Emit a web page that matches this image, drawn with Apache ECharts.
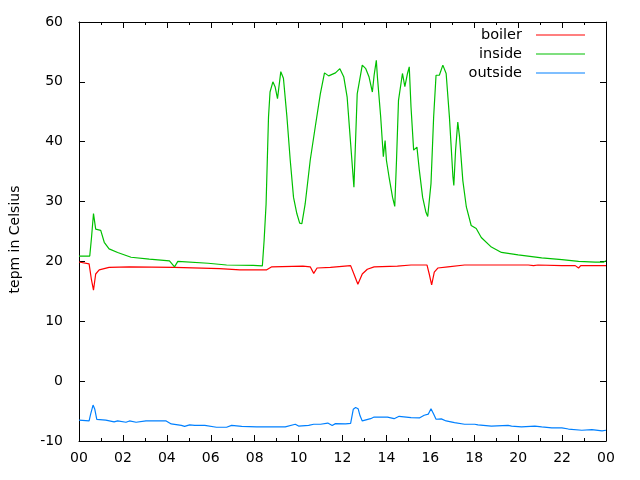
<!DOCTYPE html>
<html>
<head>
<meta charset="utf-8">
<script src="https://cdn.jsdelivr.net/npm/echarts@6/dist/echarts.min.js"></script>
<style>html,body{margin:0;padding:0;background:#fff}#c{width:640px;height:480px}</style>
</head>
<body>
<div id="c"></div>
<script>
const seriesNames = ['boiler', 'inside', 'outside'];
const xTickLabels = ['00','02','04','06','08','10','12','14','16','18','20','22','00'];
const yTickValues = [-10, 0, 10, 20, 30, 40, 50, 60];

const boilerHours = [0,0.46,0.56,0.66,0.76,0.92,1.37,2.29,4.35,6.41,7.33,8.55,8.78,10.2,10.53,10.69,10.84,11.45,12.37,12.52,12.70,12.9,13.13,13.44,14.5,15.12,15.85,15.95,16.06,16.18,16.34,16.8,17.56,20.46,20.7,20.9,21.99,22.6,22.75,22.85,24];
const boilerValues = [19.9,19.6,17.1,15.2,17.9,18.6,19.0,19.1,19.0,18.8,18.6,18.6,19.1,19.2,19.1,18.0,18.9,19.0,19.3,17.9,16.2,17.9,18.7,19.1,19.2,19.4,19.4,17.9,16.1,18.2,18.9,19.1,19.4,19.4,19.3,19.4,19.3,19.3,18.9,19.3,19.3];

const insideHours = [0,0.49,0.57,0.66,0.76,0.99,1.15,1.37,1.76,2.37,3.2,4.12,4.35,4.5,5.88,6.72,7.93,8.35,8.43,8.52,8.63,8.7,8.83,8.93,9.04,9.19,9.31,9.47,9.62,9.77,9.92,10.05,10.15,10.3,10.53,10.76,10.99,11.18,11.37,11.68,11.88,12.06,12.21,12.37,12.52,12.67,12.9,13.06,13.21,13.36,13.44,13.54,13.59,13.74,13.86,13.94,14.0,14.12,14.28,14.38,14.46,14.55,14.73,14.84,14.96,15.04,15.12,15.24,15.39,15.5,15.65,15.8,15.88,16.03,16.15,16.26,16.41,16.57,16.72,16.87,17.03,17.07,17.15,17.25,17.33,17.48,17.64,17.86,18.09,18.32,18.78,19.24,20.0,21.07,21.99,22.75,23.51,23.9,24];
const insideValues = [20.9,20.9,24.0,28.0,25.4,25.2,23.2,22.1,21.5,20.7,20.4,20.1,19.1,20.0,19.7,19.4,19.35,19.25,23.5,29.6,44.1,48.3,50.0,49.2,47.2,51.7,50.6,44.1,36.9,30.7,28.0,26.4,26.3,29.6,36.9,42.5,48.0,51.5,51.0,51.5,52.2,50.8,47.5,39.7,32.4,48.0,52.8,52.2,50.8,48.3,51.1,53.6,50.8,44.1,37.5,40.2,36.9,34.1,30.7,29.2,36.9,46.9,51.4,49.2,51.4,52.5,45.8,38.6,39.1,35.2,30.7,28.2,27.5,33.0,44.1,51.1,51.1,52.8,51.4,44.1,34.1,32.7,38.6,43.3,40.8,33.5,29.1,26.0,25.5,24.0,22.4,21.5,21.1,20.6,20.3,20.0,19.9,19.9,20.1];

const outsideHours = [0,0.46,0.53,0.64,0.72,0.81,1.22,1.6,1.76,2.14,2.3,2.6,3.05,3.97,4.2,4.66,4.81,5.04,5.27,5.73,6.26,6.72,6.95,7.41,8.09,9.39,9.85,10.0,10.46,10.69,11.0,11.33,11.53,11.68,12.14,12.37,12.49,12.6,12.71,12.8,12.9,13.28,13.44,14.05,14.35,14.58,15.12,15.5,15.72,15.91,16.03,16.15,16.26,16.5,16.72,17.1,17.56,18.02,18.17,18.78,19.54,19.7,20.15,20.76,21.07,21.53,21.99,22.29,22.9,23.36,23.82,24];
const outsideValues = [-6.5,-6.65,-5.5,-4.0,-4.7,-6.4,-6.5,-6.8,-6.65,-6.87,-6.65,-6.87,-6.65,-6.65,-7.15,-7.4,-7.55,-7.3,-7.4,-7.4,-7.7,-7.7,-7.4,-7.55,-7.65,-7.65,-7.2,-7.5,-7.4,-7.2,-7.2,-7.0,-7.4,-7.1,-7.15,-7.05,-4.7,-4.4,-4.6,-5.8,-6.65,-6.27,-6.0,-6.0,-6.27,-5.87,-6.1,-6.15,-5.7,-5.5,-4.6,-5.5,-6.37,-6.3,-6.65,-6.93,-7.2,-7.2,-7.3,-7.5,-7.4,-7.5,-7.65,-7.5,-7.65,-7.8,-7.8,-8.0,-8.2,-8.1,-8.3,-8.2];

const colors = ['#ff0000', '#00c000', '#0080ff'];
const FONT = 'DejaVu Sans';

function pairs(h, v) { return h.map((t, i) => [t, v[i]]); }

const chart = echarts.init(document.getElementById('c'), null, {renderer: 'canvas'});
const axisLine = {show: true, onZero: false, lineStyle: {color: '#000', width: 1}};
const tickStyle = {color: '#000', width: 1};

chart.setOption({
  animation: false,
  backgroundColor: '#fff',
  color: colors,
  textStyle: {fontFamily: FONT},
  grid: {left: 79, right: 34, top: 22, bottom: 39, containLabel: false},
  legend: {
    orient: 'vertical',
    right: 55,
    top: 25.5,
    padding: 0,
    align: 'right',
    itemGap: 0,
    itemWidth: 49,
    itemHeight: 1,
    icon: 'rect',
    data: seriesNames,
    textStyle: {fontFamily: FONT, fontSize: 14.5, color: '#000', lineHeight: 19, padding: [0, 9, 0, 0]}
  },
  xAxis: [{
    type: 'value', min: 0, max: 24, interval: 2, position: 'bottom',
    axisLine: axisLine,
    axisTick: {show: true, inside: true, length: 6, lineStyle: tickStyle},
    minorTick: {show: true, splitNumber: 2, length: 3, lineStyle: tickStyle},
    splitLine: {show: false},
    axisLabel: {color: '#000', fontFamily: FONT, fontSize: 14, margin: 10,
      formatter: v => xTickLabels[Math.round(v / 2)]}
  }, {
    type: 'value', min: 0, max: 24, interval: 2, position: 'top',
    axisLine: axisLine,
    axisTick: {show: true, inside: true, length: 6, lineStyle: tickStyle},
    minorTick: {show: true, splitNumber: 2, length: 3, lineStyle: tickStyle},
    splitLine: {show: false},
    axisLabel: {show: false}
  }],
  yAxis: [{
    type: 'value', min: -10, max: 60, interval: 10, position: 'left',
    name: 'tepm in Celsius', nameLocation: 'middle', nameGap: 57,
    nameTextStyle: {color: '#000', fontFamily: FONT, fontSize: 14, padding: [0, 16, 0, 0]},
    axisLine: axisLine,
    axisTick: {show: true, inside: true, length: 6, lineStyle: tickStyle},
    splitLine: {show: false},
    axisLabel: {color: '#000', fontFamily: FONT, fontSize: 14, margin: 16,
      formatter: v => (yTickValues.indexOf(v) >= 0 ? String(v) : '')}
  }, {
    type: 'value', min: -10, max: 60, interval: 10, position: 'right',
    axisLine: axisLine,
    axisTick: {show: true, inside: true, length: 6, lineStyle: tickStyle},
    splitLine: {show: false},
    axisLabel: {show: false}
  }],
  series: [
    {name: seriesNames[0], type: 'line', data: pairs(boilerHours, boilerValues), showSymbol: false, symbol: 'none', lineStyle: {width: 1.2, color: colors[0]}, itemStyle: {color: colors[0]}},
    {name: seriesNames[1], type: 'line', data: pairs(insideHours, insideValues), showSymbol: false, symbol: 'none', lineStyle: {width: 1.2, color: colors[1]}, itemStyle: {color: colors[1]}},
    {name: seriesNames[2], type: 'line', data: pairs(outsideHours, outsideValues), showSymbol: false, symbol: 'none', lineStyle: {width: 1.2, color: colors[2]}, itemStyle: {color: colors[2]}}
  ]
});
</script>
</body>
</html>
